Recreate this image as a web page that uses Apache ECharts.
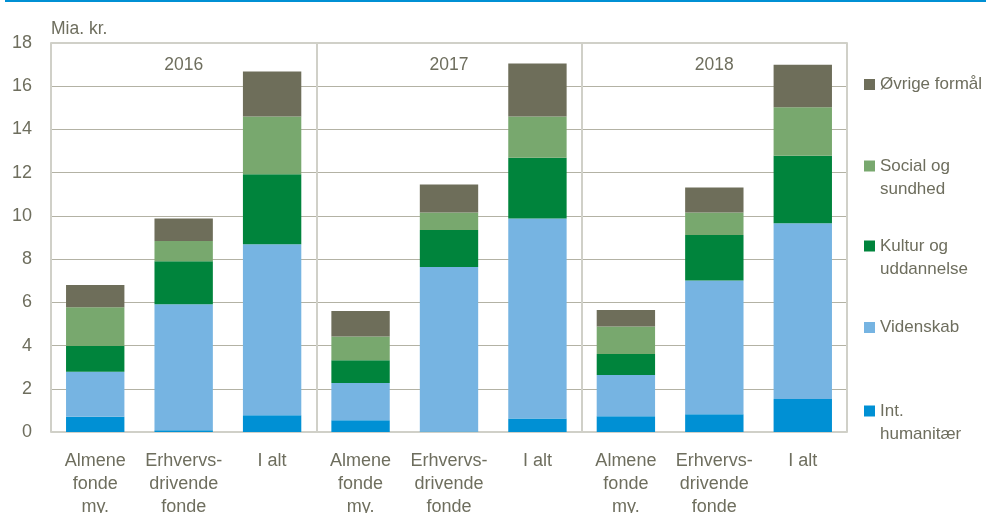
<!DOCTYPE html>
<html>
<head>
<meta charset="utf-8">
<script src="https://cdn.jsdelivr.net/npm/echarts@6/dist/echarts.min.js"></script>
<style>html,body{margin:0;padding:0;background:#fff}#c{width:986px;height:513px}</style>
</head>
<body>
<div id="c"></div>
<script>
var categories = ['Almene\nfonde\nmy.', 'Erhvervs-\ndrivende\nfonde', 'I alt',
                  'Almene\nfonde\nmy.', 'Erhvervs-\ndrivende\nfonde', 'I alt',
                  'Almene\nfonde\nmy.', 'Erhvervs-\ndrivende\nfonde', 'I alt'];
var years = ['2016', '2017', '2018'];
var yTicks = [0, 2, 4, 6, 8, 10, 12, 14, 16, 18];
var intHumanitaer = [0.70, 0.08, 0.77, 0.54, 0.02, 0.63, 0.73, 0.82, 1.53];
var videnskab     = [2.09, 5.83, 7.92, 1.73, 7.61, 9.25, 1.91, 6.19, 8.13];
var kultur        = [1.19, 1.99, 3.24, 1.05, 1.72, 2.81, 0.97, 2.10, 3.12];
var social        = [1.79, 0.94, 2.67, 1.10, 0.81, 1.91, 1.27, 1.05, 2.25];
var oevrige       = [1.03, 1.04, 2.08, 1.18, 1.29, 2.45, 0.77, 1.15, 1.96];
var seriesNames = ['Int.\nhumanitær', 'Videnskab', 'Kultur og\nuddannelse', 'Social og\nsundhed', 'Øvrige formål'];

var colors = ['#0090d4', '#76b4e2', '#00843c', '#78a86e', '#6e6e5a'];
var textColor = '#6e6e5e';
var font = 'Liberation Sans';

var values = [intHumanitaer, videnskab, kultur, social, oevrige];
var series = values.map(function (v, i) {
  return {
    name: seriesNames[i], type: 'bar', stack: 'a', data: v,
    barWidth: '66%', itemStyle: { color: colors[i] },
    xAxisIndex: 0, yAxisIndex: 0
  };
});

var legendTops = [371.5, 311, 206.5, 126.5, 68];
var legends = seriesNames.map(function (n, i) {
  var twoLines = n.indexOf('\n') >= 0;
  return {
    data: [n], left: 859, top: legendTops[i], orient: 'vertical',
    icon: 'rect', itemWidth: 11, itemHeight: 11, itemGap: 0,
    selectedMode: false,
    formatter: function (name) { return twoLines ? '\n' + name : name; },
    textStyle: { color: textColor, fontSize: 17, fontFamily: font, lineHeight: 23 }
  };
});

var chart = echarts.init(document.getElementById('c'));
chart.setOption({
  animation: false,
  backgroundColor: '#fff',
  textStyle: { fontFamily: font },
  legend: legends,
  grid: { left: 51, right: 139, top: 43, bottom: 81, containLabel: false, outerBoundsMode: 'none' },
  xAxis: [{
    type: 'category', data: categories, position: 'bottom',
    axisLine: { show: true, lineStyle: { color: '#d0d0c8', width: 2 } },
    axisTick: { show: false },
    axisLabel: { color: textColor, fontSize: 18, fontFamily: font, lineHeight: 23, margin: 18, interval: 0 }
  }, {
    type: 'category', data: years, position: 'top',
    axisLine: { show: true, lineStyle: { color: '#d0d0c8', width: 2 } },
    axisTick: { show: false },
    axisLabel: { inside: true, color: textColor, fontSize: 17.5, fontFamily: font, margin: 13, verticalAlign: 'top' },
    splitLine: { show: true, lineStyle: { color: '#d0d0c8', width: 2 } }
  }],
  yAxis: [{
    type: 'value', min: yTicks[0], max: yTicks[yTicks.length - 1], interval: yTicks[1] - yTicks[0],
    name: 'Mia. kr.', nameLocation: 'end', nameGap: 5,
    nameTextStyle: { color: textColor, fontSize: 17.5, fontFamily: font, align: 'left' },
    axisLine: { show: false }, axisTick: { show: false },
    axisLabel: { color: textColor, fontSize: 18, fontFamily: font, margin: 19 },
    splitLine: { show: true, lineStyle: { color: '#b3b2a4', width: 1 } }
  }],
  graphic: [{
    type: 'rect', shape: { x: 5, y: 0, width: 981, height: 2 }, style: { fill: '#0090d4' }, silent: true
  }],
  series: series
});
</script>
</body>
</html>
